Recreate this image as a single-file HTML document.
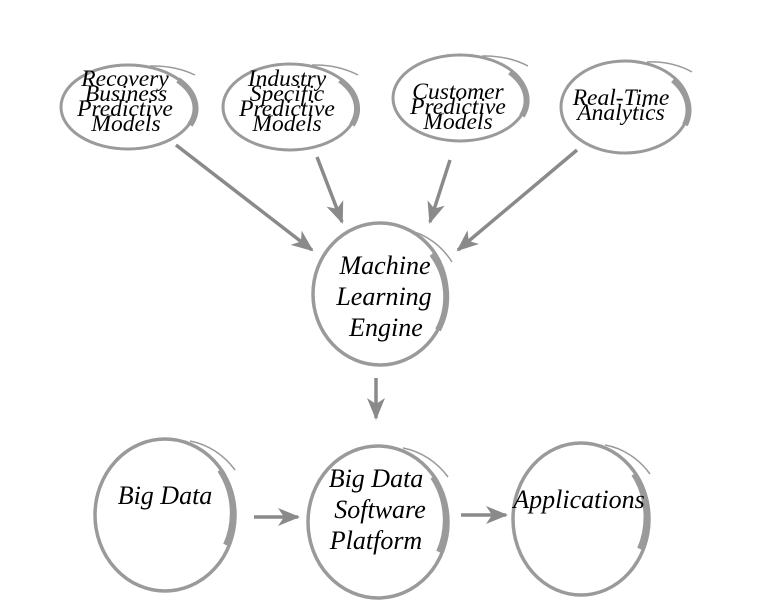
<!DOCTYPE html>
<html><head><style>html,body{margin:0;padding:0;background:#fff;}svg{display:block}</style></head>
<body>
<svg width="768" height="601" viewBox="0 0 768 601" xmlns="http://www.w3.org/2000/svg">
<defs>
<marker id="ab" markerWidth="22" markerHeight="18" refX="20" refY="9" orient="auto" markerUnits="userSpaceOnUse">
<path d="M0,0 L22,9 L0,18 L6,9 Z" fill="#8a8a8a"/>
</marker>
</defs>
<g fill="none" stroke="#9a9a9a">
<ellipse cx="128" cy="107" rx="67" ry="42" stroke-width="3"/>
<path d="M178,80 A67,42 0 0 1 190,125" stroke-width="6"/>
<path d="M150,66 A70,45 0 0 1 195,75" stroke-width="1.5"/>
<ellipse cx="290" cy="107" rx="67" ry="43" stroke-width="3"/>
<path d="M340,80 A67,43 0 0 1 352,125" stroke-width="6"/>
<path d="M312,65 A70,46 0 0 1 358,75" stroke-width="1.5"/>
<ellipse cx="460" cy="98" rx="67" ry="43" stroke-width="3"/>
<path d="M510,72 A67,43 0 0 1 522,116" stroke-width="6"/>
<path d="M482,56 A70,46 0 0 1 528,66" stroke-width="1.5"/>
<ellipse cx="625" cy="107" rx="64" ry="46" stroke-width="3"/>
<path d="M673,80 A64,46 0 0 1 685,125" stroke-width="6"/>
<path d="M647,62 A68,50 0 0 1 692,72" stroke-width="1.5"/>
<ellipse cx="380" cy="294" rx="67" ry="71" stroke-width="3.5"/>
<path d="M432,254 A64,68 0 0 1 438,330" stroke-width="6"/>
<path d="M408,230 A72,76 0 0 1 452,262" stroke-width="1.5"/>
<ellipse cx="165" cy="515" rx="70" ry="76" stroke-width="3.5"/>
<path d="M220,470 A67,73 0 0 1 226,545" stroke-width="6"/>
<path d="M190,441 A74,80 0 0 1 235,470" stroke-width="1.5"/>
<ellipse cx="378" cy="522" rx="70" ry="76" stroke-width="3.5"/>
<path d="M433,477 A67,73 0 0 1 439,552" stroke-width="6"/>
<path d="M403,448 A74,80 0 0 1 448,477" stroke-width="1.5"/>
<ellipse cx="581" cy="519" rx="68" ry="76" stroke-width="3.5"/>
<path d="M634,474 A65,73 0 0 1 640,549" stroke-width="6"/>
<path d="M605,445 A72,80 0 0 1 650,474" stroke-width="1.5"/>
</g>
<g stroke="#8a8a8a" stroke-width="3.5" marker-end="url(#ab)">
<line x1="176" y1="145" x2="312" y2="250"/>
<line x1="317" y1="157" x2="342" y2="222"/>
<line x1="450" y1="160" x2="430" y2="222"/>
<line x1="577" y1="150" x2="458" y2="250"/>
<line x1="376" y1="378" x2="376" y2="418"/>
<line x1="254" y1="517" x2="298" y2="517"/>
<line x1="461" y1="515" x2="506" y2="515"/>
</g>
<g font-family="'Liberation Serif',serif" font-style="italic" fill="#000" text-anchor="middle">
<g font-size="23.5">
<text x="125" y="86">Recovery</text>
<text x="126" y="101">Business</text>
<text x="125" y="116">Predictive</text>
<text x="126" y="131">Models</text>
<text x="287" y="86">Industry</text>
<text x="287" y="101">Specific</text>
<text x="287" y="116">Predictive</text>
<text x="287" y="131">Models</text>
<text x="458" y="99">Customer</text>
<text x="458" y="114">Predictive</text>
<text x="458" y="129">Models</text>
<text x="621" y="105">Real-Time</text>
<text x="621" y="120">Analytics</text>
</g>
<g font-size="26">
<text x="385" y="274">Machine</text>
<text x="384" y="305">Learning</text>
<text x="386" y="336">Engine</text>
<text x="165" y="504">Big Data</text>
<text x="376" y="487">Big Data</text>
<text x="380" y="518">Software</text>
<text x="376" y="549">Platform</text>
<text x="579" y="508">Applications</text>
</g>
</g>
</svg>
</body></html>
